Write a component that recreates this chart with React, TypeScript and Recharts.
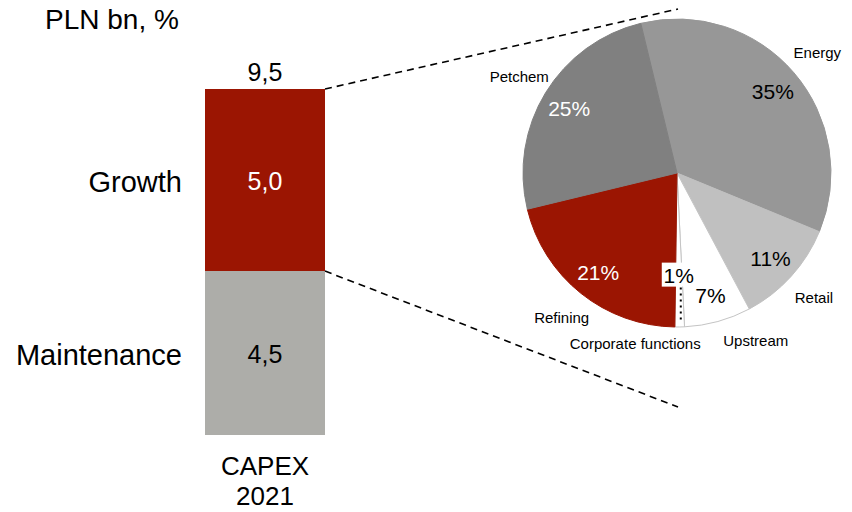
import React from "react";
import { Bar, BarChart, Cell, LabelList, Pie, PieChart, XAxis, YAxis } from "recharts";

// left bar: CAPEX split, PLN bn
const categories = ["CAPEX 2021"];
const maintenanceValues = [4.5];
const growthValues = [5.0];
const totalValues = [9.5];

// right pie: split of growth capex by segment, %
const segmentNames = ["Energy", "Retail", "Upstream", "Corporate functions", "Refining", "Petchem"];
const segmentShares = [35, 11, 7, 1, 21, 25];

const barData = categories.map((category, i) => ({
  category,
  Maintenance: maintenanceValues[i],
  Growth: growthValues[i],
  total: totalValues[i],
}));

const pieData = segmentNames.map((name, i) => ({ name, value: segmentShares[i] }));

const FONT = "'Liberation Sans', Arial, sans-serif";
const RED = "#9b1502";
const MAINT_GREY = "#adada9";
const SLICE_COLORS = ["#979797", "#c0c0c0", "#ffffff", "#ffffff", RED, "#808080"];
const DARK_SLICES = new Set(["#808080", RED]);

const PIE_CX = 677;
const PIE_CY = 173;
const PIE_R = 154;
const RAD = Math.PI / 180;

const fmt = (v: number) => v.toFixed(1).replace(".", ",");

function SideLabel(props: any) {
  const { x, y, height, name } = props;
  return (
    <text
      x={x - 23}
      y={y + height / 2 + 2}
      textAnchor="end"
      dominantBaseline="central"
      fontFamily={FONT}
      fontSize={29}
      fill="#000"
    >
      {name}
    </text>
  );
}

function ValueLabel(props: any) {
  const { x, y, width, height, value, color } = props;
  return (
    <text
      x={x + width / 2}
      y={y + height / 2 + 1}
      textAnchor="middle"
      dominantBaseline="central"
      fontFamily={FONT}
      fontSize={25}
      fill={color}
    >
      {fmt(Number(value))}
    </text>
  );
}

function TotalAndConnectors(props: any) {
  const { x, y, width, height, index } = props;
  const right = x + width;
  return (
    <g>
      <text
        x={x + width / 2}
        y={y - 17}
        textAnchor="middle"
        dominantBaseline="central"
        fontFamily={FONT}
        fontSize={25}
        fill="#000"
      >
        {fmt(totalValues[index])}
      </text>
      <line
        x1={right}
        y1={y}
        x2={PIE_CX + 1}
        y2={PIE_CY - 164}
        stroke="#000"
        strokeWidth={1.6}
        strokeDasharray="7 5"
      />
      <line
        x1={right}
        y1={y + height}
        x2={PIE_CX + 1}
        y2={PIE_CY + 234}
        stroke="#000"
        strokeWidth={1.6}
        strokeDasharray="7 5"
      />
    </g>
  );
}

function CategoryTick(props: any) {
  const { x, y, payload } = props;
  const parts = String(payload.value).split(" ");
  return (
    <text x={x} textAnchor="middle" fontFamily={FONT} fontSize={26} fill="#000">
      {parts.map((p, i) => (
        <tspan key={p} x={x} y={y + 32 + i * 30}>
          {p}
        </tspan>
      ))}
    </text>
  );
}

function SliceLabel(props: any) {
  const { cx, cy, midAngle, outerRadius, name, value, index } = props;
  const fill = SLICE_COLORS[index];
  const ux = Math.cos(-midAngle * RAD);
  const uy = Math.sin(-midAngle * RAD);
  const small = value < 3;
  const pctR = small ? outerRadius * 0.66 : outerRadius * 0.82;
  const px = cx + pctR * ux;
  const py = cy + pctR * uy;

  // segment names sit outside the pie; the ones near the bottom are pushed aside
  let nx = cx + outerRadius * 1.2 * ux;
  let ny = cy + outerRadius * 1.2 * uy;
  let anchor: "start" | "middle" | "end" = "middle";
  if (small) {
    nx -= 45;
    ny -= 14;
  } else if (uy > 0.9) {
    nx = cx + outerRadius * 1.13 * ux;
    ny = cy + outerRadius * 1.13 * uy;
    anchor = ux > 0 ? "start" : "end";
  }

  return (
    <g>
      {small && (
        <>
          <rect x={px - 17} y={py - 12} width={34} height={24} fill="#fff" />
          <line
            x1={px + 2}
            y1={py + 13}
            x2={px + 2}
            y2={cy + outerRadius * 0.97 * uy}
            stroke="#000"
            strokeWidth={2}
            strokeDasharray="2 4"
          />
        </>
      )}
      <text
        x={px}
        y={py + 1}
        textAnchor="middle"
        dominantBaseline="central"
        fontFamily={FONT}
        fontSize={21}
        fill={DARK_SLICES.has(fill) ? "#fff" : "#000"}
      >
        {`${value}%`}
      </text>
      <text
        x={nx}
        y={ny}
        textAnchor={anchor}
        dominantBaseline="central"
        fontFamily={FONT}
        fontSize={15}
        fill="#000"
      >
        {name}
      </text>
    </g>
  );
}

export default function App() {
  return (
    <div
      style={{
        position: "absolute",
        left: 0,
        top: 0,
        width: 852,
        height: 512,
        background: "#fff",
        fontFamily: FONT,
      }}
    >
      <div
        style={{
          position: "absolute",
          left: 45,
          top: 2,
          fontSize: 28,
          lineHeight: "36px",
          color: "#000",
        }}
      >
        PLN bn, %
      </div>

      <div style={{ position: "absolute", left: 0, top: 0 }}>
        <BarChart
          width={852}
          height={512}
          data={barData}
          margin={{ top: 89, right: 507, bottom: 17, left: 185 }}
        >
          <XAxis
            dataKey="category"
            height={60}
            axisLine={false}
            tickLine={false}
            tick={<CategoryTick />}
            interval={0}
          />
          <YAxis hide width={0} type="number" domain={[0, 9.5]} />
          <Bar dataKey="Maintenance" stackId="capex" fill={MAINT_GREY} barSize={120} isAnimationActive={false}>
            <LabelList dataKey="Maintenance" content={(p: any) => <ValueLabel {...p} color="#000" />} />
            <LabelList dataKey="Maintenance" content={(p: any) => <SideLabel {...p} name="Maintenance" />} />
          </Bar>
          <Bar dataKey="Growth" stackId="capex" fill={RED} barSize={120} isAnimationActive={false}>
            <LabelList dataKey="Growth" content={(p: any) => <ValueLabel {...p} color="#fff" />} />
            <LabelList dataKey="Growth" content={(p: any) => <SideLabel {...p} name="Growth" />} />
            <LabelList dataKey="total" content={(p: any) => <TotalAndConnectors {...p} />} />
          </Bar>
        </BarChart>
      </div>

      <div style={{ position: "absolute", left: 0, top: 0 }}>
        <PieChart width={852} height={512} margin={{ top: 0, right: 0, bottom: 0, left: 0 }}>
          <Pie
            data={pieData}
            dataKey="value"
            nameKey="name"
            cx={PIE_CX}
            cy={PIE_CY}
            outerRadius={PIE_R}
            startAngle={103.6}
            endAngle={-256.4}
            strokeWidth={1}
            labelLine={false}
            label={(p: any) => <SliceLabel {...p} />}
            isAnimationActive={false}
          >
            {pieData.map((d, i) => (
              <Cell
                key={d.name}
                fill={SLICE_COLORS[i]}
                stroke={SLICE_COLORS[i] === "#ffffff" ? "#c4c4c4" : SLICE_COLORS[i]}
              />
            ))}
          </Pie>
        </PieChart>
      </div>
    </div>
  );
}
